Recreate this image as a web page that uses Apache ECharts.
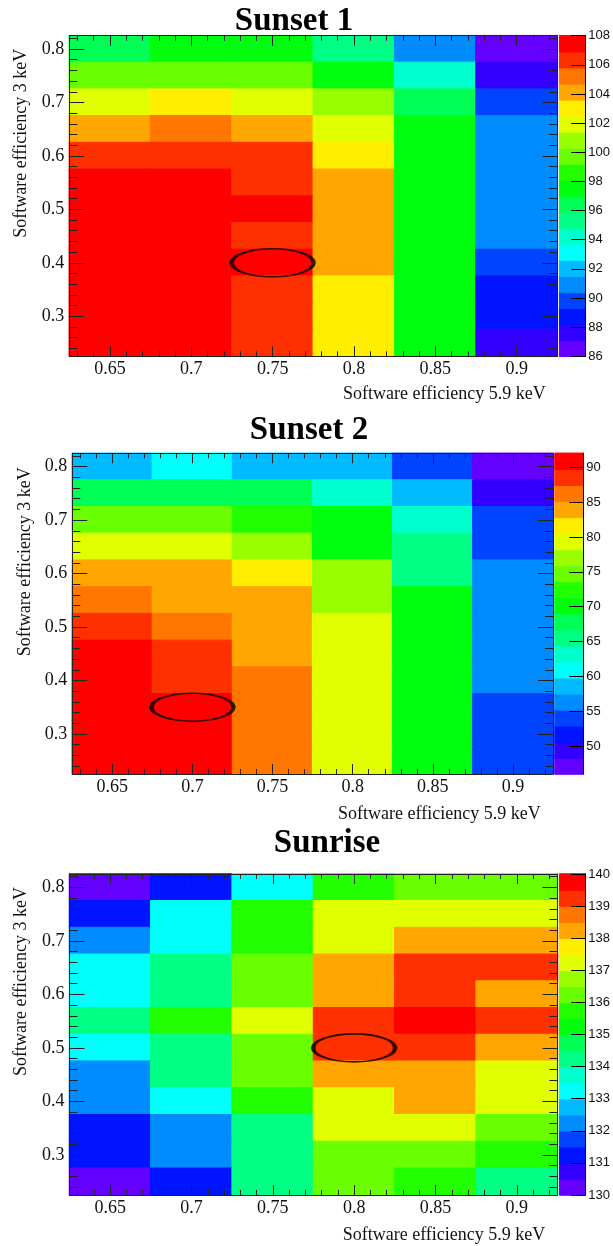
<!DOCTYPE html>
<html><head><meta charset="utf-8">
<script src="https://cdn.jsdelivr.net/npm/echarts@6/dist/echarts.min.js"></script>
<style>html,body{margin:0;padding:0;background:#fff}#c{width:613px;height:1246px}</style>
</head><body><div id="c"></div>
<script>
// ---------- data ----------
const xCategories = ['0.65','0.7','0.75','0.8','0.85','0.9'];
const yCategories = ['0.25','0.3','0.35','0.4','0.45','0.5','0.55','0.6','0.65','0.7','0.75','0.8'];
const xTickLabels = [0.65, 0.7, 0.75, 0.8, 0.85, 0.9];
const yTickLabels = [0.3, 0.4, 0.5, 0.6, 0.7, 0.8];
const xMinorTicks = [0.63,0.64,0.66,0.67,0.68,0.69,0.71,0.72,0.73,0.74,0.76,0.77,0.78,0.79,0.81,0.82,0.83,0.84,0.86,0.87,0.88,0.89,0.91,0.92];
const yMinorTicks = [0.24,0.26,0.28,0.32,0.34,0.36,0.38,0.42,0.44,0.46,0.48,0.52,0.54,0.56,0.58,0.62,0.64,0.66,0.68,0.72,0.74,0.76,0.78,0.82];
const xRange = [0.625, 0.925];
const yRange = [0.225, 0.825];
const panelTitles = ['Sunset 1', 'Sunset 2', 'Sunrise'];
const xAxisTitle = 'Software efficiency 5.9 keV';
const yAxisTitle = 'Software efficiency 3 keV';

// rows listed from top (0.8) to bottom (0.25); columns 0.65 ... 0.9
const sunset1 = [
  [96.5, 97.6, 97.7, 95.4, 91.0, 86.6],
  [99.8, 99.9, 99.7, 97.6, 94.3, 87.7],
  [102.0, 103.1, 101.9, 100.9, 96.5, 89.9],
  [104.2, 105.3, 104.1, 102.0, 97.6, 91.0],
  [106.4, 106.5, 106.3, 103.1, 97.5, 91.1],
  [107.5, 107.6, 106.4, 104.2, 97.6, 91.0],
  [107.7, 107.6, 107.3, 104.3, 97.7, 90.9],
  [107.6, 107.5, 106.5, 104.2, 97.6, 91.0],
  [107.7, 107.6, 107.4, 104.1, 97.5, 89.9],
  [107.6, 107.5, 106.4, 103.1, 97.6, 88.8],
  [107.5, 107.4, 106.3, 103.0, 97.5, 88.7],
  [107.4, 107.3, 106.2, 103.1, 97.4, 87.7]
];
const sunset2 = [
  [58.7, 61.0, 58.6, 58.5, 54.1, 47.2],
  [67.9, 67.8, 67.7, 63.3, 58.7, 49.5],
  [74.8, 74.7, 72.5, 70.2, 63.3, 54.1],
  [79.4, 79.3, 77.1, 70.1, 65.6, 54.0],
  [84.0, 84.1, 81.7, 77.1, 65.5, 56.4],
  [86.3, 84.0, 83.9, 77.0, 70.2, 56.3],
  [88.6, 86.3, 84.0, 79.4, 70.1, 56.4],
  [90.9, 88.6, 83.9, 79.3, 70.2, 56.5],
  [90.9, 88.5, 86.3, 79.4, 70.1, 56.4],
  [91.0, 90.9, 86.2, 79.4, 70.2, 54.1],
  [90.9, 90.8, 86.3, 79.3, 70.1, 54.0],
  [90.8, 90.9, 86.2, 79.4, 70.0, 54.1]
];
const sunrise = [
  [130.25, 131.25, 133.25, 135.75, 136.25, 136.3],
  [131.25, 133.3, 135.75, 137.25, 137.3, 137.2],
  [132.25, 133.25, 135.7, 137.25, 138.25, 138.3],
  [133.25, 134.25, 136.25, 138.25, 139.25, 139.3],
  [133.3, 134.3, 136.2, 138.3, 139.2, 138.25],
  [134.25, 135.75, 137.25, 139.25, 139.75, 139.3],
  [133.25, 134.2, 136.25, 139.3, 139.25, 138.25],
  [132.25, 134.25, 136.3, 138.25, 138.3, 137.25],
  [132.3, 133.25, 135.75, 137.25, 138.25, 137.3],
  [131.25, 132.25, 134.25, 137.2, 137.25, 136.25],
  [131.3, 132.3, 134.3, 136.25, 136.3, 135.75],
  [130.25, 131.25, 134.2, 136.2, 135.75, 134.25]
];
const panelValues = [sunset1, sunset2, sunrise];
const zRanges = [[86, 108], [46, 92], [130, 140]];
const zTickLabels = [
  [86, 88, 90, 92, 94, 96, 98, 100, 102, 104, 106, 108],
  [50, 55, 60, 65, 70, 75, 80, 85, 90],
  [130, 131, 132, 133, 134, 135, 136, 137, 138, 139, 140]
];
const bestPoints = [[0.75, 0.4], [0.7, 0.35], [0.8, 0.5]];
const nContours = 20;
const palette = ['#6300ff','#3300ff','#0014ff','#0044ff','#008bff','#00bbff','#00fffb','#00ffcc','#00ff85','#00ff55',
                 '#00ff0e','#22ff00','#69ff00','#99ff00','#e0ff00','#ffee00','#ffa700','#ff7700','#ff3000','#ff0000'];

// ---------- layout ----------
const layouts = [
  {grid:{left:69.3, top:35.7, width:488, height:320.6}, cbar:{left:559.7, width:28.3},
   title:[294, 21], yTitle:[21.5, 143.3], xTitle:[545.7, 394.5]},
  {grid:{left:72.3, top:453.3, width:480.7, height:320.7}, cbar:{left:555, width:28.3},
   title:[309, 430], yTitle:[25.4, 561.7], xTitle:[540.7, 814.3]},
  {grid:{left:69.5, top:874, width:488, height:321}, cbar:{left:559.7, width:29},
   title:[327, 843], yTitle:[21.5, 981.5], xTitle:[545.3, 1235]}
];

const serif = 'Liberation Serif';
const sans = 'Liberation Sans';
const lineColor = '#222';

const grids = [], xAxes = [], yAxes = [], series = [], visualMaps = [], graphics = [];

function valueAxisBase(gi, min, max, position) {
  return {type:'value', gridIndex:gi, min:min, max:max, position:position, z:10,
          splitLine:{show:false}, axisLine:{show:false, onZero:false}};
}
function bandColor(v, zmin, zmax) {
  const step = (zmax - zmin) / nContours;
  let k = Math.floor((v - zmin) / step);
  if (k < 0) k = 0;
  if (k > nContours - 1) k = nContours - 1;
  return palette[k];
}

panelValues.forEach(function (vals, p) {
  const L = layouts[p];
  const gMain = grids.length;
  grids.push({left:L.grid.left, top:L.grid.top, width:L.grid.width, height:L.grid.height, containLabel:false});
  const gBar = grids.length;
  grids.push({left:L.cbar.left, top:L.grid.top, width:L.cbar.width, height:L.grid.height, containLabel:false});

  const xb = xAxes.length, yb = yAxes.length;
  // x axes
  xAxes.push({type:'category', gridIndex:gMain, data:xCategories, show:false});
  xAxes.push(Object.assign(valueAxisBase(gMain, xRange[0], xRange[1], 'bottom'), {
    axisLine:{show:true, onZero:false, lineStyle:{color:lineColor, width:1}},
    axisTick:{show:true, inside:true, length:10, customValues:xTickLabels, lineStyle:{color:lineColor}},
    axisLabel:{show:true, customValues:xTickLabels, margin:4, fontFamily:serif, fontSize:18, color:'#111',
               formatter:function (v) { return String(+v.toFixed(2)); }}
  }));
  xAxes.push(Object.assign(valueAxisBase(gMain, xRange[0], xRange[1], 'bottom'), {
    axisTick:{show:true, inside:true, length:5, customValues:xMinorTicks, lineStyle:{color:lineColor}},
    axisLabel:{show:false}
  }));
  xAxes.push(Object.assign(valueAxisBase(gMain, xRange[0], xRange[1], 'top'), {
    axisLine:{show:true, onZero:false, lineStyle:{color:lineColor, width:1}},
    axisTick:{show:true, inside:true, length:10, customValues:xTickLabels, lineStyle:{color:lineColor}},
    axisLabel:{show:false}
  }));
  xAxes.push(Object.assign(valueAxisBase(gMain, xRange[0], xRange[1], 'top'), {
    axisTick:{show:true, inside:true, length:5, customValues:xMinorTicks, lineStyle:{color:lineColor}},
    axisLabel:{show:false}
  }));
  xAxes.push({type:'category', gridIndex:gBar, data:['z'], show:false});

  // y axes
  yAxes.push({type:'category', gridIndex:gMain, data:yCategories, show:false});
  yAxes.push(Object.assign(valueAxisBase(gMain, yRange[0], yRange[1], 'left'), {
    axisLine:{show:true, onZero:false, lineStyle:{color:lineColor, width:1}},
    axisTick:{show:true, inside:true, length:15, customValues:yTickLabels, lineStyle:{color:lineColor}},
    axisLabel:{show:true, customValues:yTickLabels, margin:5, fontFamily:serif, fontSize:18, color:'#111',
               formatter:function (v) { return String(+v.toFixed(2)); }}
  }));
  yAxes.push(Object.assign(valueAxisBase(gMain, yRange[0], yRange[1], 'left'), {
    axisTick:{show:true, inside:true, length:8, customValues:yMinorTicks, lineStyle:{color:lineColor}},
    axisLabel:{show:false}
  }));
  yAxes.push(Object.assign(valueAxisBase(gMain, yRange[0], yRange[1], 'right'), {
    axisLine:{show:true, onZero:false, lineStyle:{color:lineColor, width:1}},
    axisTick:{show:true, inside:true, length:15, customValues:yTickLabels, lineStyle:{color:lineColor}},
    axisLabel:{show:false}
  }));
  yAxes.push(Object.assign(valueAxisBase(gMain, yRange[0], yRange[1], 'right'), {
    axisTick:{show:true, inside:true, length:8, customValues:yMinorTicks, lineStyle:{color:lineColor}},
    axisLabel:{show:false}
  }));
  const bandCats = [];
  for (let k = 0; k < nContours; k++) bandCats.push(String(k));
  yAxes.push({type:'category', gridIndex:gBar, data:bandCats, show:false});
  yAxes.push(Object.assign(valueAxisBase(gBar, zRanges[p][0], zRanges[p][1], 'right'), {
    axisLine:{show:true, onZero:false, lineStyle:{color:'#000', width:1}},
    axisTick:{show:true, inside:true, length:14, customValues:zTickLabels[p], lineStyle:{color:'#000'}},
    axisLabel:{show:true, customValues:zTickLabels[p], margin:3, fontFamily:sans, fontSize:13, color:'#111'}
  }));

  const zmin = zRanges[p][0], zmax = zRanges[p][1], step = (zmax - zmin) / nContours;
  // heatmap data (thin same-colour border hides anti-aliasing seams)
  const cells = [];
  vals.forEach(function (row, r) {
    const yi = yCategories.length - 1 - r;
    row.forEach(function (v, c) {
      cells.push({value:[c, yi, v], itemStyle:{borderWidth:1, borderColor:bandColor(v, zmin, zmax)}});
    });
  });
  const bands = [];
  for (let k = 0; k < nContours; k++) {
    const v = zmin + (k + 0.5) * step;
    bands.push({value:[0, k, v], itemStyle:{borderWidth:1, borderColor:bandColor(v, zmin, zmax)}});
  }

  const sMain = series.length;
  series.push({type:'heatmap', xAxisIndex:xb, yAxisIndex:yb, data:cells, progressive:0,
               emphasis:{disabled:true}, z:2});
  const sBar = series.length;
  series.push({type:'heatmap', xAxisIndex:xb + 5, yAxisIndex:yb + 5, data:bands, progressive:0,
               emphasis:{disabled:true}, z:2});
  series.push({type:'scatter', xAxisIndex:xb + 1, yAxisIndex:yb + 1, data:[bestPoints[p]],
               symbol:'path://M0,50 A50,50 0 1,1 100,50 A50,50 0 1,1 0,50 Z',
               symbolSize:[82, 28], silent:true, z:5,
               itemStyle:{color:'rgba(0,0,0,0)', borderColor:'#000', borderWidth:2.6}});

  const pieces = [];
  for (let k = 0; k < nContours; k++) {
    const pc = {gte: zmin + k * step, color: palette[k]};
    if (k < nContours - 1) pc.lt = zmin + (k + 1) * step; else pc.lte = zmax + 1e-9;
    pieces.push(pc);
  }
  visualMaps.push({type:'piecewise', show:false, dimension:2, seriesIndex:[sMain, sBar], pieces:pieces});

  graphics.push({type:'text', x:L.title[0], y:L.title[1], z:20,
    style:{text:panelTitles[p], fontFamily:serif, fontWeight:'bold', fontSize:33, fill:'#000',
           align:'center', verticalAlign:'middle'}});
  graphics.push({type:'text', x:L.yTitle[0], y:L.yTitle[1], rotation:Math.PI / 2, z:20,
    style:{text:yAxisTitle, fontFamily:serif, fontSize:18, fill:'#111', align:'center', verticalAlign:'middle'}});
  graphics.push({type:'text', x:L.xTitle[0], y:L.xTitle[1], z:20,
    style:{text:xAxisTitle, fontFamily:serif, fontSize:18, fill:'#111', align:'right', verticalAlign:'middle'}});
});

const chart = echarts.init(document.getElementById('c'), null, {renderer:'canvas'});
chart.setOption({
  animation:false,
  backgroundColor:'#fff',
  grid:grids,
  xAxis:xAxes,
  yAxis:yAxes,
  visualMap:visualMaps,
  series:series,
  graphic:graphics
});
</script>
</body></html>
